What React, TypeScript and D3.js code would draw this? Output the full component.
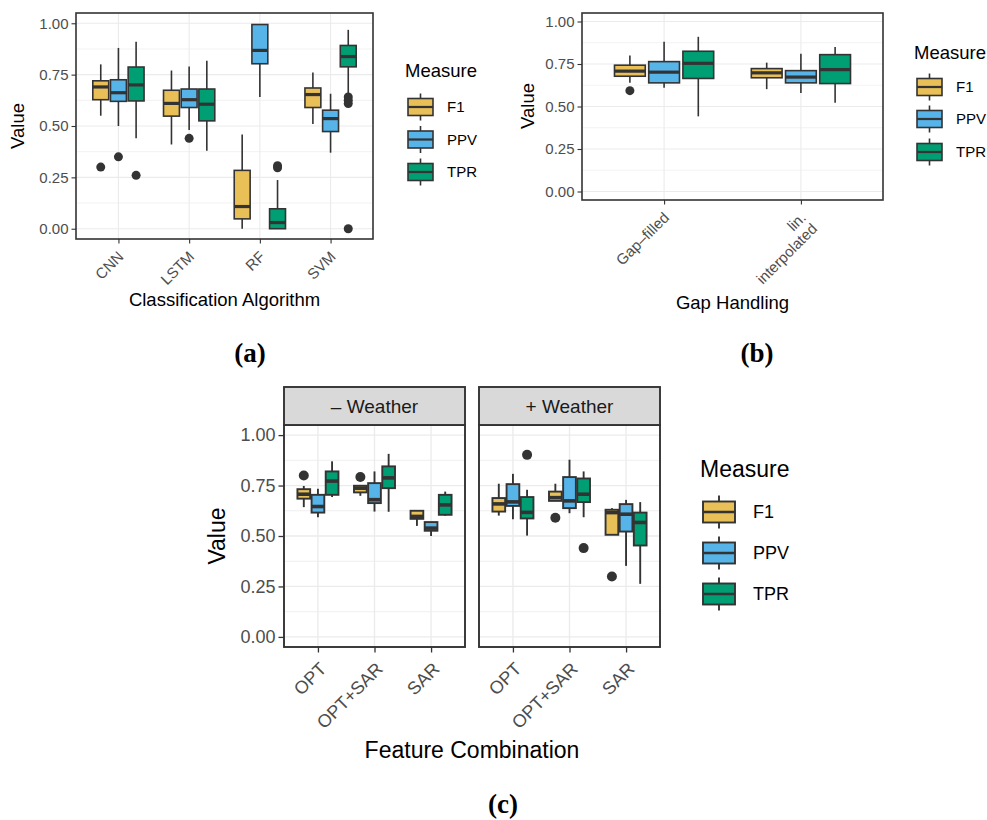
import React, { useEffect, useRef } from 'react';
import * as d3 from 'd3';

const measures = ['F1', 'PPV', 'TPR'];
const measureColors = ['#E9BF57', '#56B4E9', '#009E73'];

const algorithms = ['CNN', 'LSTM', 'RF', 'SVM'];
const gapHandling = ['Gap–filled', 'lin.\ninterpolated'];
const featureCombos = ['OPT', 'OPT+SAR', 'SAR'];
const weatherFacets = ['– Weather', '+ Weather'];
const valueTicks = [0, 0.25, 0.5, 0.75, 1];
const minorTicks = [0.125, 0.375, 0.625, 0.875];

// [category, measure, whiskerLow, q1, median, q3, whiskerHigh, outliers]
type Box = [string, string, number, number, number, number, number, number[]];

const algorithmBoxes: Box[] = [
    ['CNN', 'F1', 0.55, 0.628, 0.69, 0.72, 0.80, [0.30]],
    ['CNN', 'PPV', 0.50, 0.62, 0.662, 0.725, 0.88, [0.35]],
    ['CNN', 'TPR', 0.44, 0.622, 0.70, 0.787, 0.91, [0.26]],
    ['LSTM', 'F1', 0.41, 0.548, 0.61, 0.674, 0.77, []],
    ['LSTM', 'PPV', 0.48, 0.59, 0.628, 0.68, 0.79, [0.44]],
    ['LSTM', 'TPR', 0.38, 0.525, 0.606, 0.68, 0.817, []],
    ['RF', 'F1', 0.0, 0.048, 0.108, 0.284, 0.459, []],
    ['RF', 'PPV', 0.641, 0.803, 0.868, 0.994, 0.997, []],
    ['RF', 'TPR', 0.0, 0.0, 0.03, 0.097, 0.237, [0.297, 0.307]],
    ['SVM', 'F1', 0.51, 0.59, 0.653, 0.685, 0.76, []],
    ['SVM', 'PPV', 0.37, 0.473, 0.536, 0.577, 0.657, []],
    ['SVM', 'TPR', 0.65, 0.788, 0.838, 0.892, 0.968, [0.641, 0.625, 0.609, 0.0]],
];

const gapBoxes: Box[] = [
    ['Gap–filled', 'F1', 0.64, 0.678, 0.708, 0.743, 0.80, [0.593]],
    ['Gap–filled', 'PPV', 0.61, 0.639, 0.702, 0.764, 0.881, []],
    ['Gap–filled', 'TPR', 0.442, 0.665, 0.754, 0.825, 0.91, []],
    ['lin.\ninterpolated', 'F1', 0.602, 0.669, 0.698, 0.723, 0.758, []],
    ['lin.\ninterpolated', 'PPV', 0.58, 0.639, 0.673, 0.711, 0.81, []],
    ['lin.\ninterpolated', 'TPR', 0.522, 0.635, 0.717, 0.805, 0.85, []],
];

const noWeatherBoxes: Box[] = [
    ['OPT', 'F1', 0.643, 0.685, 0.707, 0.732, 0.748, [0.80]],
    ['OPT', 'PPV', 0.593, 0.616, 0.646, 0.704, 0.734, []],
    ['OPT', 'TPR', 0.693, 0.704, 0.772, 0.82, 0.87, []],
    ['OPT+SAR', 'F1', 0.699, 0.716, 0.737, 0.749, 0.75, [0.792]],
    ['OPT+SAR', 'PPV', 0.621, 0.663, 0.68, 0.762, 0.82, []],
    ['OPT+SAR', 'TPR', 0.62, 0.737, 0.788, 0.845, 0.907, []],
    ['SAR', 'F1', 0.55, 0.585, 0.597, 0.625, 0.625, []],
    ['SAR', 'PPV', 0.50, 0.526, 0.539, 0.569, 0.569, []],
    ['SAR', 'TPR', 0.60, 0.605, 0.654, 0.704, 0.72, []],
];

const withWeatherBoxes: Box[] = [
    ['OPT', 'F1', 0.601, 0.621, 0.659, 0.688, 0.759, []],
    ['OPT', 'PPV', 0.583, 0.649, 0.669, 0.757, 0.808, []],
    ['OPT', 'TPR', 0.502, 0.587, 0.617, 0.693, 0.729, [0.902]],
    ['OPT+SAR', 'F1', 0.674, 0.674, 0.69, 0.72, 0.759, [0.59]],
    ['OPT+SAR', 'PPV', 0.613, 0.638, 0.674, 0.792, 0.878, []],
    ['OPT+SAR', 'TPR', 0.593, 0.668, 0.707, 0.785, 0.82, [0.44]],
    ['SAR', 'F1', 0.506, 0.506, 0.616, 0.63, 0.638, [0.299]],
    ['SAR', 'PPV', 0.352, 0.522, 0.608, 0.658, 0.679, []],
    ['SAR', 'TPR', 0.263, 0.453, 0.567, 0.616, 0.668, []],
];

const FONT = '"Liberation Sans", Arial, Helvetica, sans-serif';

interface Look {
    tick: number;
    title: number;
    line: number;
    median: number;
    r: number;
    grid: number;
    border: number;
    tickLen: number;
    labelDx: number;
    labelDy: number;
}

const lookAB: Look = { tick: 15, title: 18.5, line: 1.6, median: 3.2, r: 4.5, grid: 1.1, border: 1.6, tickLen: 4.5, labelDx: -2, labelDy: 11 };
const lookC: Look = { tick: 18, title: 23, line: 1.9, median: 3.6, r: 5, grid: 1.3, border: 1.9, tickLen: 5.5, labelDx: 0, labelDy: 14 };

type G = d3.Selection<SVGGElement, unknown, null, undefined>;

function drawPanel(
    g: G, boxes: Box[], cats: string[],
    x0: number, x1: number, y0: number, y1: number,
    look: Look, showY: boolean,
) {
    const x = d3.scalePoint<string>().domain(cats).range([x0, x1]).padding(0.6);
    const step = x.step();
    const dodge = d3.scaleBand<string>().domain(measures)
        .range([-0.375 * step, 0.375 * step]).paddingInner(0.1).paddingOuter(0.05);
    const y = d3.scaleLinear().domain([-0.05, 1.05]).range([y1, y0]);
    const color = d3.scaleOrdinal<string, string>().domain(measures).range(measureColors);

    g.append('rect').attr('x', x0).attr('y', y0).attr('width', x1 - x0).attr('height', y1 - y0)
        .attr('fill', 'white');

    g.selectAll('.minor').data(minorTicks).enter().append('line')
        .attr('x1', x0).attr('x2', x1).attr('y1', d => y(d)).attr('y2', d => y(d))
        .attr('stroke', '#EBEBEB').attr('stroke-width', look.grid * 0.6);
    g.selectAll('.majorY').data(valueTicks).enter().append('line')
        .attr('x1', x0).attr('x2', x1).attr('y1', d => y(d)).attr('y2', d => y(d))
        .attr('stroke', '#EBEBEB').attr('stroke-width', look.grid);
    g.selectAll('.majorX').data(cats).enter().append('line')
        .attr('x1', d => x(d)!).attr('x2', d => x(d)!).attr('y1', y0).attr('y2', y1)
        .attr('stroke', '#EBEBEB').attr('stroke-width', look.grid);

    const bw = dodge.bandwidth();
    const items = g.selectAll('.box').data(boxes).enter().append('g');
    const cx = (b: Box) => x(b[0])! + dodge(b[1])! + bw / 2;

    items.append('line')
        .attr('x1', cx).attr('x2', cx).attr('y1', b => y(b[2])).attr('y2', b => y(b[3]))
        .attr('stroke', '#333333').attr('stroke-width', look.line);
    items.append('line')
        .attr('x1', cx).attr('x2', cx).attr('y1', b => y(b[5])).attr('y2', b => y(b[6]))
        .attr('stroke', '#333333').attr('stroke-width', look.line);
    items.append('rect')
        .attr('x', b => cx(b) - bw / 2).attr('width', bw)
        .attr('y', b => y(b[5])).attr('height', b => y(b[3]) - y(b[5]))
        .attr('fill', b => color(b[1])).attr('stroke', '#333333').attr('stroke-width', look.line);
    items.append('line')
        .attr('x1', b => cx(b) - bw / 2).attr('x2', b => cx(b) + bw / 2)
        .attr('y1', b => y(b[4])).attr('y2', b => y(b[4]))
        .attr('stroke', '#333333').attr('stroke-width', look.median);
    items.each(function (b) {
        d3.select(this).selectAll('circle').data(b[7]).enter().append('circle')
            .attr('cx', cx(b)).attr('cy', v => y(v)).attr('r', look.r).attr('fill', '#333333');
    });

    g.append('rect').attr('x', x0).attr('y', y0).attr('width', x1 - x0).attr('height', y1 - y0)
        .attr('fill', 'none').attr('stroke', '#333333').attr('stroke-width', look.border);

    if (showY) {
        const ya = g.append('g').attr('transform', `translate(${x0},0)`)
            .call(d3.axisLeft(y).tickValues(valueTicks).tickFormat(d3.format('.2f'))
                .tickSize(look.tickLen).tickPadding(3));
        ya.select('.domain').remove();
        ya.attr('font-family', FONT).attr('font-size', look.tick);
        ya.selectAll('line').attr('stroke', '#333333').attr('stroke-width', look.grid);
        ya.selectAll('text').attr('fill', '#4D4D4D');
    }

    const xa = g.append('g').attr('transform', `translate(0,${y1})`)
        .call(d3.axisBottom(x).tickSize(look.tickLen).tickSizeOuter(0));
    xa.select('.domain').remove();
    xa.attr('font-family', FONT).attr('font-size', look.tick);
    xa.selectAll('line').attr('stroke', '#333333').attr('stroke-width', look.grid);
    xa.selectAll<SVGTextElement, string>('text').each(function (d) {
        const t = d3.select(this);
        const lines = String(d).split('\n');
        t.text(null).attr('y', null).attr('dy', null)
            .attr('fill', '#4D4D4D').attr('text-anchor', 'end')
            .attr('transform', `translate(${look.labelDx},${look.labelDy}) rotate(-45)`);
        lines.forEach((ln, i) => {
            t.append('tspan').attr('x', 0).attr('dy', i === 0 ? '0.71em' : '1.05em').text(ln);
        });
    });
}

function drawLegend(g: G, x: number, titleY: number, keyYs: number[], kw: number, kh: number,
    whisk: number, labelX: number, titleSize: number, labelSize: number, look: Look) {
    g.append('text').attr('x', x).attr('y', titleY).attr('font-family', FONT)
        .attr('font-size', titleSize).attr('fill', 'black').text('Measure');
    measures.forEach((m, i) => {
        const cy = keyYs[i];
        const cx = x + 3 + kw / 2;
        g.append('line').attr('x1', cx).attr('x2', cx).attr('y1', cy - kh / 2 - whisk).attr('y2', cy + kh / 2 + whisk)
            .attr('stroke', '#333333').attr('stroke-width', look.line);
        g.append('rect').attr('x', cx - kw / 2).attr('y', cy - kh / 2).attr('width', kw).attr('height', kh)
            .attr('fill', measureColors[i]).attr('stroke', '#333333').attr('stroke-width', look.line);
        g.append('line').attr('x1', cx - kw / 2).attr('x2', cx + kw / 2).attr('y1', cy).attr('y2', cy)
            .attr('stroke', '#333333').attr('stroke-width', look.median * 0.7);
        g.append('text').attr('x', labelX).attr('y', cy).attr('dy', '0.36em').attr('font-family', FONT)
            .attr('font-size', labelSize).attr('fill', 'black').text(m);
    });
}

function axisTitle(g: G, txt: string, x: number, y: number, size: number, rotate = false) {
    g.append('text')
        .attr('transform', rotate ? `translate(${x},${y}) rotate(-90)` : `translate(${x},${y})`)
        .attr('text-anchor', 'middle').attr('font-family', FONT).attr('font-size', size)
        .attr('fill', 'black').text(txt);
}

function panelTag(g: G, txt: string, x: number, y: number) {
    g.append('text').attr('x', x).attr('y', y).attr('text-anchor', 'middle')
        .attr('font-family', '"Liberation Serif", "DejaVu Serif", serif').attr('font-weight', 'bold')
        .attr('font-size', 27).attr('fill', 'black').text(txt);
}

const App: React.FC = () => {
    const svgRef = useRef<SVGSVGElement>(null);

    useEffect(() => {
        if (!svgRef.current) return;
        const svg = d3.select(svgRef.current);
        svg.selectAll('*').remove();
        const root = svg.append('g') as G;

        // (a) classification algorithm
        drawPanel(root, algorithmBoxes, algorithms, 76, 373, 13, 239, lookAB, true);
        axisTitle(root, 'Classification Algorithm', 224.5, 306, lookAB.title);
        axisTitle(root, 'Value', 24, 126, lookAB.title, true);
        drawLegend(root, 405, 77, [107, 139.5, 172], 25, 17, 5, 447, 18.5, 15, lookAB);
        panelTag(root, '(a)', 250, 362);

        // (b) gap handling
        drawPanel(root, gapBoxes, gapHandling, 582, 883, 13, 200, lookAB, true);
        axisTitle(root, 'Gap Handling', 732.5, 309, lookAB.title);
        axisTitle(root, 'Value', 534, 106, lookAB.title, true);
        drawLegend(root, 914, 59, [87, 119, 152], 25, 17, 5, 956, 18.5, 15, lookAB);
        panelTag(root, '(b)', 757, 362);

        // (c) feature combination, faceted by weather
        const facets: [string, Box[], number, number][] = [
            [weatherFacets[0], noWeatherBoxes, 284, 465],
            [weatherFacets[1], withWeatherBoxes, 479, 660],
        ];
        facets.forEach(([name, boxes, fx0, fx1], i) => {
            drawPanel(root, boxes, featureCombos, fx0, fx1, 425, 647, lookC, i === 0);
            root.append('rect').attr('x', fx0).attr('y', 387).attr('width', fx1 - fx0).attr('height', 38)
                .attr('fill', '#D9D9D9').attr('stroke', '#333333').attr('stroke-width', lookC.border);
            root.append('text').attr('x', (fx0 + fx1) / 2).attr('y', 406).attr('dy', '0.36em')
                .attr('text-anchor', 'middle').attr('font-family', FONT).attr('font-size', 19)
                .attr('fill', '#1A1A1A').text(name);
        });
        axisTitle(root, 'Feature Combination', 472, 758, lookC.title);
        axisTitle(root, 'Value', 225, 536, lookC.title, true);
        drawLegend(root, 700, 477, [512, 553, 594], 32, 21, 6, 753, 23, 18, lookC);
        panelTag(root, '(c)', 503, 813);
    }, []);

    return (
        <svg ref={svgRef} width={987} height={820}
            style={{ position: 'absolute', left: 0, top: 0, background: 'white' }} />
    );
};

export default App;
